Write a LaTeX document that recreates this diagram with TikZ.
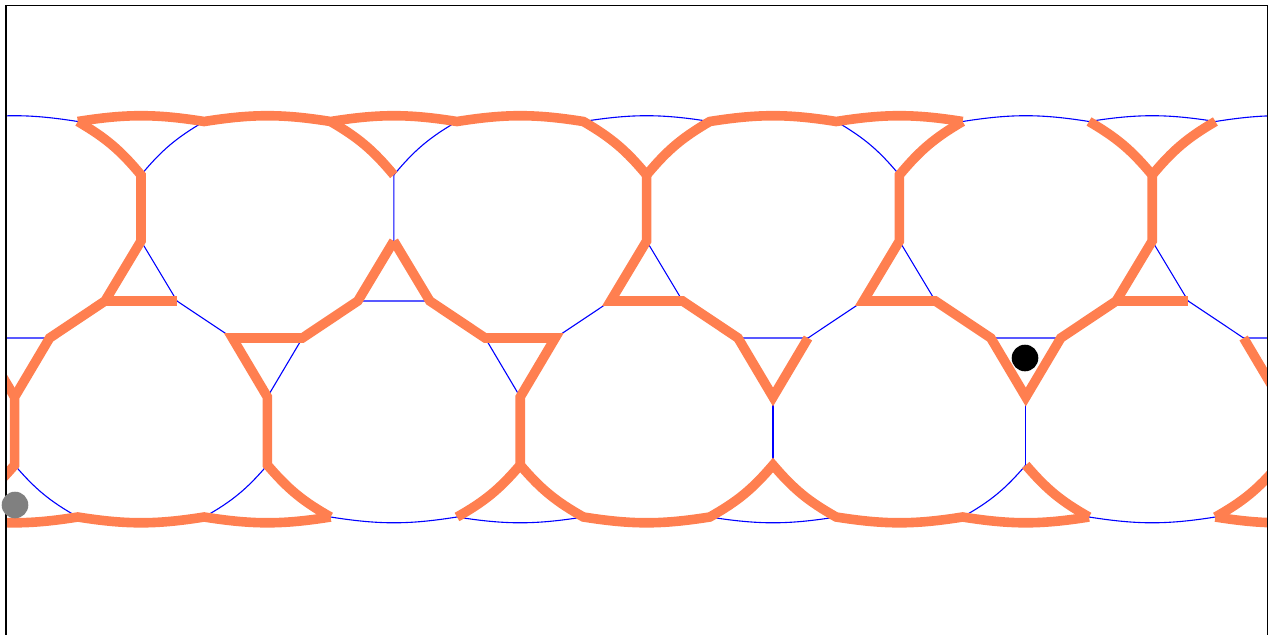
\documentclass[tikz,border=0pt]{standalone}
\definecolor{coralO}{RGB}{255,127,80}
\begin{document}
\begin{tikzpicture}[x=1pt,y=-1pt,
  tile/.style={blue,line width=1.1pt},
  band/.style={coralO,line width=9.6pt,line join=miter,line cap=butt},
  frameline/.style={black,line width=1.4pt},
  dotstyle/.style={circle,inner sep=0pt,minimum size=26.6pt}]
\useasboundingbox (0,0) rectangle (1270,635);
\def\sb{10}
\def\tb{9}
\foreach \i in {0,...,6}{
  \pgfmathsetmacro\xv{141+252.8*(\i-1)}
  \pgfmathsetmacro\xw{\xv-126.4}
  \coordinate (A\i) at (\xv,175);
  \coordinate (B\i) at (\xv,241);
  \coordinate (L\i) at (\xv-36,301);
  \coordinate (R\i) at (\xv+36,301);
  \coordinate (JL\i) at (\xv-63.2,121.5);
  \coordinate (JR\i) at (\xv+63.2,121.5);
  \coordinate (C\i) at (\xw-35,338);
  \coordinate (D\i) at (\xw+35,338);
  \coordinate (E\i) at (\xw,397);
  \coordinate (F\i) at (\xw,465);
  \coordinate (KL\i) at (\xw-63.2,517);
  \coordinate (KR\i) at (\xw+63.2,517);
}
\begin{scope}
\clip (6,0) rectangle (1267.3,635);
% blue tiling
\foreach \i in {0,...,6}{
  \draw[tile] (A\i) to[bend right=\sb] (JL\i);
  \draw[tile] (A\i) to[bend left=\sb] (JR\i);
  \draw[tile] (A\i) -- (B\i) -- (L\i) -- (R\i) -- (B\i);
  \draw[tile] (JL\i) to[bend left=\tb] (JR\i);
  \draw[tile] (C\i) -- (D\i) -- (E\i) -- cycle;
  \draw[tile] (E\i) -- (F\i);
  \draw[tile] (F\i) to[bend left=\sb] (KL\i);
  \draw[tile] (F\i) to[bend right=\sb] (KR\i);
  \draw[tile] (KL\i) to[bend right=\tb] (KR\i);
  \draw[tile] (L\i) -- (D\i);
}
\foreach \i in {0,...,5}{
  \pgfmathtruncatemacro\j{\i+1}
  \draw[tile] (R\i) -- (C\j);
  \draw[tile] (JR\i) to[bend left=\tb] (JL\j);
  \draw[tile] (KR\i) to[bend right=\tb] (KL\j);
}
% orange bands
\draw[band] (KL1) to[bend right=\sb] (F1) -- (E1) -- (D1) -- (L1) -- (B1) -- (A1) to[bend right=\sb] (JL1);
\draw[band] (JL1) to[bend left=\tb] (JR1) to[bend left=\tb] (JL2) to[bend left=\tb] (JR2) to[bend left=\tb] (JL3) to[bend left=\sb] (A3);
\draw[band] (A3) to[bend left=\sb] (JR3) to[bend left=\tb] (JL4) to[bend left=\tb] (JR4);
\draw[band] (JR4) to[bend right=\sb] (A4) -- (B4) -- (L4) -- (R4) -- (C5) -- (E5) -- (D5) -- (L5) -- (B5) -- (A5) to[bend right=\sb] (JL5);
\draw[band] (C1) -- (E1);
\draw[band] (L1) -- (R1);
\draw[band] (JL2) to[bend left=\sb] (A2);
\draw[band] (A3) -- (B3) -- (L3) -- (R3) -- (C4) -- (E4) -- (D4);
\draw[band] (A5) to[bend left=\sb] (JR5);
\draw[band] (L5) -- (R5);
\draw[band] (KL1) to[bend right=\tb] (KR1) to[bend right=\tb] (KL2) to[bend right=\tb] (KR2);
\draw[band] (KR2) to[bend left=\sb] (F2) -- (E2) -- (C2) -- (D2) -- (L2) -- (B2);
\draw[band] (B2) -- (R2) -- (C3) -- (D3) -- (E3) -- (F3) to[bend left=\sb] (KL3);
\draw[band] (F3) to[bend right=\sb] (KR3) to[bend right=\tb] (KL4) to[bend right=\sb] (F4) to[bend right=\sb] (KR4) to[bend right=\tb] (KL5) to[bend right=\tb] (KR5);
\draw[band] (KR5) to[bend left=\sb] (F5);
\draw[band] (C6) -- (E6);
\draw[band] (F6) to[bend left=\sb] (KL6);
\draw[band] (KL6) to[bend right=\tb] (KR6);
\end{scope}
% frame
\draw[frameline] (6,636) -- (6,5.5) -- (1267.3,5.5) -- (1267.3,636);
% markers
\node[dotstyle,fill=gray] (grayDot) at (15,505) {};
\node[dotstyle,fill=black] (blackDot) at (1025,358) {};
\end{tikzpicture}
\end{document}
